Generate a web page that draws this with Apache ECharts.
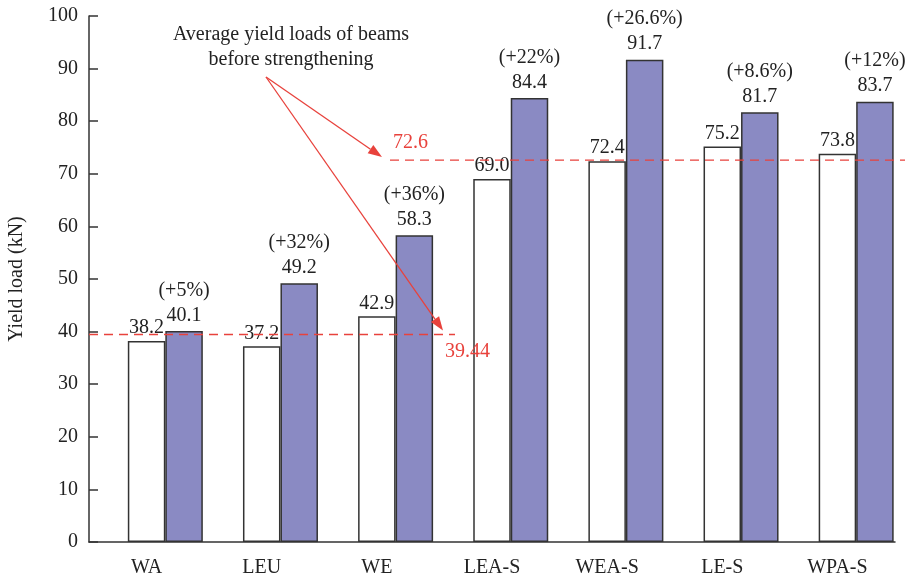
<!DOCTYPE html>
<html>
<head>
<meta charset="utf-8">
<script src="https://cdn.jsdelivr.net/npm/echarts@6/dist/echarts.min.js"></script>
<style>
  html, body { margin: 0; background: #fff; }
  #chart { width: 909px; height: 578px; }
</style>
</head>
<body>
<div id="chart"></div>
<script>
// data
const categories = ['WA', 'LEU', 'WE', 'LEA-S', 'WEA-S', 'LE-S', 'WPA-S'];
const beforeLoads = [38.2, 37.2, 42.9, 69.0, 72.4, 75.2, 73.8];
const afterLoads = [40.1, 49.2, 58.3, 84.4, 91.7, 81.7, 83.7];
const increases = ['+5%', '+32%', '+36%', '+22%', '+26.6%', '+8.6%', '+12%'];
const avgBefore = ['39.44', '72.6'];

const FONT = 'Liberation Serif';
const RED = '#e8423c';

const chart = echarts.init(document.getElementById('chart'));

const option = {
    animation: false,
    backgroundColor: '#fff',
    grid: { left: 89, right: 14, top: 16, bottom: 36, containLabel: false, outerBoundsMode: 'none' },
    xAxis: {
        type: 'category',
        data: categories,
        axisLine: { lineStyle: { color: '#333', width: 1.5 } },
        axisTick: { show: false },
        axisLabel: { color: '#222', fontFamily: FONT, fontSize: 20, margin: 16 }
    },
    yAxis: {
        type: 'value',
        min: 0, max: 100, interval: 10,
        name: 'Yield load (kN)',
        nameLocation: 'middle',
        nameGap: 62,
        nameTextStyle: { color: '#222', fontFamily: FONT, fontSize: 20 },
        axisLine: { show: true, lineStyle: { color: '#333', width: 1.5 } },
        axisTick: { show: true, inside: true, length: 9, lineStyle: { color: '#333', width: 1.5 } },
        axisLabel: { color: '#222', fontFamily: FONT, fontSize: 20, margin: 11 },
        splitLine: { show: false }
    },
    series: [
        // empty slot so the white bar sits on the category centre
        { type: 'bar', data: categories.map(() => '-'), barWidth: 37.5, barGap: '0%' },
        {
            type: 'bar', name: 'before', data: beforeLoads, barWidth: 37.5, barGap: '0%',
            itemStyle: { color: '#fff', borderColor: '#333', borderWidth: 1.5 },
            label: {
                show: true, position: 'top', distance: 3,
                color: '#222', fontFamily: FONT, fontSize: 20,
                formatter: p => p.value.toFixed(1)
            }
        },
        {
            type: 'bar', name: 'after', data: afterLoads, barWidth: 37.5, barGap: '0%',
            itemStyle: { color: '#8a8ac3', borderColor: '#333', borderWidth: 1.5 },
            label: {
                show: true, position: 'top', distance: 3,
                color: '#222', fontFamily: FONT, fontSize: 20, lineHeight: 25,
                formatter: p => '(' + increases[p.dataIndex] + ')\n' + p.value.toFixed(1)
            }
        }
    ]
};
chart.setOption(option);

// annotation: dashed average lines and arrows, drawn over the bars
const yLow = chart.convertToPixel({ yAxisIndex: 0 }, Number(avgBefore[0]));
const yHigh = chart.convertToPixel({ yAxisIndex: 0 }, Number(avgBefore[1]));
const origin = [266, 77];

function arrow(from, to) {
    const dx = to[0] - from[0], dy = to[1] - from[1];
    const len = Math.sqrt(dx * dx + dy * dy);
    const ux = dx / len, uy = dy / len;
    const hl = 14, hw = 5;
    const bx = to[0] - ux * hl, by = to[1] - uy * hl;
    return [
        { type: 'line', z: 10, shape: { x1: from[0], y1: from[1], x2: bx, y2: by },
          style: { stroke: RED, lineWidth: 1.3 } },
        { type: 'polygon', z: 10, shape: { points: [to, [bx - uy * hw, by + ux * hw], [bx + uy * hw, by - ux * hw]] },
          style: { fill: RED } }
    ];
}

const dashStyle = { stroke: RED, lineWidth: 1.4, lineDash: [9, 6] };
const txtFont = '20px "' + FONT + '"';
chart.setOption({
    graphic: [
        { type: 'line', z: 10, shape: { x1: 89, y1: yLow, x2: 455, y2: yLow }, style: dashStyle },
        { type: 'line', z: 10, shape: { x1: 390, y1: yHigh, x2: 905, y2: yHigh }, style: dashStyle },
        { type: 'text', z: 10, x: 445, y: yLow + 17, style: { text: avgBefore[0], fill: RED, font: txtFont, textVerticalAlign: 'middle' } },
        { type: 'text', z: 10, x: 393, y: yHigh - 17, style: { text: avgBefore[1], fill: RED, font: txtFont, textVerticalAlign: 'middle' } },
        { type: 'text', z: 10, x: 291, y: 35, style: { text: 'Average yield loads of beams', fill: '#222', font: txtFont, textAlign: 'center', textVerticalAlign: 'middle' } },
        { type: 'text', z: 10, x: 291, y: 60, style: { text: 'before strengthening', fill: '#222', font: txtFont, textAlign: 'center', textVerticalAlign: 'middle' } },
        ...arrow(origin, [382, yHigh - 3]),
        ...arrow(origin, [443, yLow - 4])
    ]
});
</script>
</body>
</html>
